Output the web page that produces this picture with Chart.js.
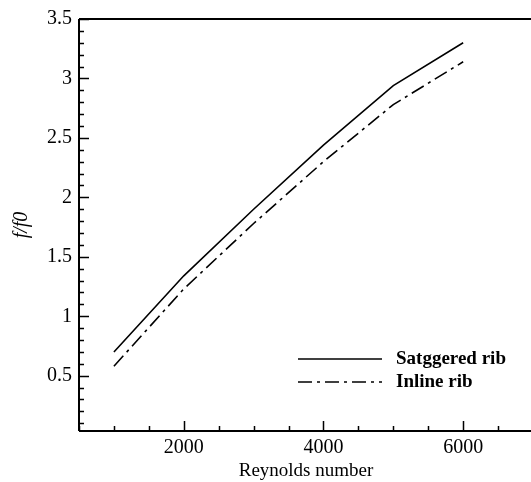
<!DOCTYPE html>
<html>
<head>
<meta charset="utf-8">
<script src="https://cdn.jsdelivr.net/npm/chart.js@4/dist/chart.umd.min.js"></script>
<style>
  html, body { margin: 0; padding: 0; background: #fff; overflow: hidden; }
  #wrap { width: 536px; height: 482px; }
</style>
</head>
<body>
<div id="wrap"><canvas id="ribChart" width="536" height="482"></canvas></div>
<script>
// Friction factor ratio vs Reynolds number
var reynolds = [1000, 2000, 3000, 4000, 5000, 6000];
var staggered = [0.70, 1.34, 1.90, 2.44, 2.94, 3.30];
var inline = [0.58, 1.23, 1.78, 2.30, 2.78, 3.14];
var xTicks = [2000, 4000, 6000];
var yTicks = [0.5, 1, 1.5, 2, 2.5, 3, 3.5];

var serif = "'Liberation Serif', 'Times New Roman', serif";

// axes box + inward ticks (major and minor)
var frame = {
    id: 'frame',
    afterDraw: function (chart) {
        var c = chart.ctx, a = chart.chartArea;
        var xs = chart.scales.x, ys = chart.scales.y;
        c.save();
        c.strokeStyle = '#000';
        c.lineWidth = 2;
        c.beginPath();
        c.moveTo(a.left, a.top); c.lineTo(a.right, a.top);
        c.moveTo(a.left, a.top); c.lineTo(a.left, a.bottom);
        c.moveTo(a.left, a.bottom); c.lineTo(a.right, a.bottom);
        c.moveTo(a.right, a.top); c.lineTo(a.right, a.bottom);
        c.stroke();
        c.lineWidth = 1.5;
        c.beginPath();
        for (var v = 500; v <= 7000; v += 500) {
            var px = Math.round(xs.getPixelForValue(v)) + 0.5;
            var len = (v % 2000 === 0) ? 10 : 5;
            c.moveTo(px, a.bottom); c.lineTo(px, a.bottom - len);
        }
        for (var i = 1; i <= 35; i++) {
            var val = i / 10;
            var py = Math.round(ys.getPixelForValue(val)) + 0.5;
            var l = (i % 5 === 0) ? 10 : 5;
            c.moveTo(a.left, py); c.lineTo(a.left + l, py);
        }
        c.stroke();

        // legend
        var lx1 = 298, lx2 = 382, tx = 396;
        var rows = [359, 382];
        chart.data.datasets.forEach(function (ds, k) {
            c.strokeStyle = '#000';
            c.lineWidth = 1.5;
            c.setLineDash(ds.borderDash || []);
            c.beginPath();
            c.moveTo(lx1, rows[k]); c.lineTo(lx2, rows[k]);
            c.stroke();
            c.setLineDash([]);
            c.fillStyle = '#000';
            c.font = 'bold 19px ' + serif;
            c.textBaseline = 'middle';
            c.textAlign = 'left';
            c.fillText(ds.label, tx, rows[k]);
        });
        c.restore();
    }
};

var ctx = document.getElementById('ribChart').getContext('2d');
var chart = new Chart(ctx, {
    type: 'line',
    data: {
        labels: reynolds,
        datasets: [{
            label: 'Satggered rib',
            data: reynolds.map(function (r, i) { return { x: r, y: staggered[i] }; }),
            borderColor: '#000',
            borderWidth: 1.6,
            pointRadius: 0,
            tension: 0,
            fill: false
        }, {
            label: 'Inline rib',
            data: reynolds.map(function (r, i) { return { x: r, y: inline[i] }; }),
            borderColor: '#000',
            borderWidth: 1.6,
            borderDash: [14, 5, 3, 5],
            pointRadius: 0,
            tension: 0,
            fill: false
        }]
    },
    options: {
        responsive: false,
        animation: false,
        layout: { padding: { top: 15, right: 3, left: 0, bottom: 0 } },
        plugins: { legend: { display: false }, tooltip: { enabled: false } },
        scales: {
            x: {
                type: 'linear',
                min: 500,
                max: 7000,
                grid: { display: false, drawTicks: false },
                border: { display: false },
                afterBuildTicks: function (s) { s.ticks = xTicks.map(function (v) { return { value: v }; }); },
                afterFit: function (s) { s.height = 51; },
                ticks: {
                    color: '#000',
                    padding: 5,
                    maxRotation: 0,
                    font: { family: serif, size: 20 },
                    callback: function (v) { return String(v); }
                },
                title: {
                    display: true,
                    text: 'Reynolds number',
                    color: '#000',
                    padding: { top: 0, bottom: 0 },
                    font: { family: serif, size: 19 }
                }
            },
            y: {
                min: 0.035,
                max: 3.5,
                grid: { display: false, drawTicks: false },
                border: { display: false },
                afterBuildTicks: function (s) { s.ticks = yTicks.map(function (v) { return { value: v }; }); },
                afterFit: function (s) { s.width = 79; },
                ticks: {
                    color: '#000',
                    padding: 7,
                    font: { family: serif, size: 20 },
                    callback: function (v) { return String(v); }
                },
                title: {
                    display: true,
                    text: 'f/f0',
                    color: '#000',
                    padding: { top: 10, bottom: 2 },
                    font: { family: serif, size: 20, style: 'italic' }
                }
            }
        }
    },
    plugins: [frame]
});
</script>
</body>
</html>
